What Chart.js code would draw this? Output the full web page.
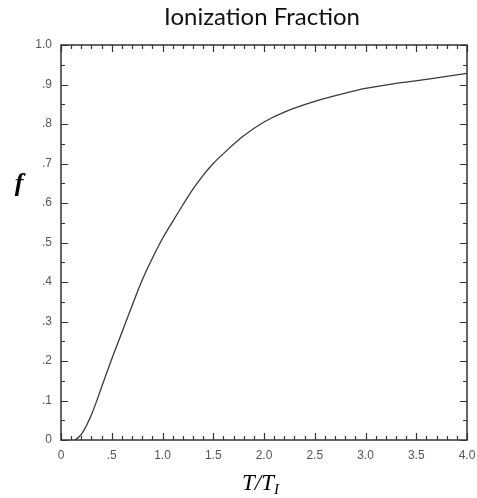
<!DOCTYPE html>
<html>
<head>
<meta charset="utf-8">
<script src="https://cdn.jsdelivr.net/npm/chart.js@4.4.0/dist/chart.umd.min.js"></script>
<style>
  body { margin: 0; background: #fff; }
  #wrap { width: 477px; height: 498px; }
</style>
</head>
<body>
<div id="wrap"><canvas id="ion-chart"></canvas></div>
<script>
// values
var tempRatio = [0.14, 0.2, 0.3, 0.4, 0.5, 0.6, 0.7, 0.8, 0.9, 1.0, 1.1, 1.2, 1.3, 1.4, 1.5, 1.6, 1.8, 2.0, 2.2, 2.5, 2.8, 3.0, 3.3, 3.6, 4.0];
var fraction  = [0, 0.014, 0.064, 0.134, 0.205, 0.272, 0.34, 0.405, 0.46, 0.51, 0.553, 0.595, 0.635, 0.67, 0.70, 0.725, 0.77, 0.805, 0.83, 0.857, 0.878, 0.89, 0.903, 0.913, 0.928];

var xTickValues = [0, 0.5, 1.0, 1.5, 2.0, 2.5, 3.0, 3.5, 4.0];
var xTickLabels = ['0', '.5', '1.0', '1.5', '2.0', '2.5', '3.0', '3.5', '4.0'];
var yTickValues = [0, 0.1, 0.2, 0.3, 0.4, 0.5, 0.6, 0.7, 0.8, 0.9, 1.0];
var yTickLabels = ['0', '.1', '.2', '.3', '.4', '.5', '.6', '.7', '.8', '.9', '1.0'];

var chartTitle = 'Ionization Fraction';
var yTitle = 'f';
var xTitle = 'T/T';
var xTitleSub = 'I';

var points = tempRatio.map(function(t, i) { return {x: t, y: fraction[i]}; });

function labelFor(values, labels, v) {
    for (var i = 0; i < values.length; i++) {
        if (Math.abs(values[i] - v) < 1e-6) return labels[i];
    }
    return '';
}

// frame, inward ticks and the titles
var framePlugin = {
    id: 'frame',
    afterDraw: function(chart) {
        var ctx = chart.ctx;
        var a = chart.chartArea;
        var xs = chart.scales.x, ys = chart.scales.y;
        ctx.save();
        ctx.strokeStyle = '#333';
        ctx.lineWidth = 1.5;
        ctx.strokeRect(a.left, a.top, a.right - a.left, a.bottom - a.top);

        ctx.lineWidth = 1.2;
        ctx.beginPath();
        for (var i = 0; i <= 40; i++) {
            var px = Math.round(xs.getPixelForValue(i / 10)) + 0.5;
            var len = i % 5 === 0 ? 7 : 4;
            ctx.moveTo(px, a.bottom); ctx.lineTo(px, a.bottom - len);
            ctx.moveTo(px, a.top); ctx.lineTo(px, a.top + len);
        }
        for (var j = 0; j <= 20; j++) {
            var py = Math.round(ys.getPixelForValue(j / 20)) + 0.5;
            var l2 = j % 2 === 0 ? 7 : 4;
            ctx.moveTo(a.left, py); ctx.lineTo(a.left + l2, py);
            ctx.moveTo(a.right, py); ctx.lineTo(a.right - l2, py);
        }
        ctx.stroke();

        ctx.fillStyle = '#111';
        ctx.textAlign = 'center';
        ctx.textBaseline = 'middle';
        ctx.font = '24px Lato';
        ctx.fillText(chartTitle, 262, 17);

        ctx.fillStyle = '#000';
        ctx.font = 'italic bold 26px "Liberation Serif"';
        ctx.fillText(yTitle, 19, 184);

        ctx.font = 'italic 23px "Liberation Serif"';
        ctx.textAlign = 'left';
        ctx.textBaseline = 'alphabetic';
        var w = ctx.measureText(xTitle).width;
        var x0 = 242;
        ctx.fillText(xTitle, x0, 490);
        ctx.font = 'italic 15px "Liberation Serif"';
        ctx.fillText(xTitleSub, x0 + w, 494);
        ctx.restore();
    }
};

new Chart(document.getElementById('ion-chart'), {
    type: 'line',
    data: {
        datasets: [{
            data: points,
            borderColor: '#3a3a3a',
            borderWidth: 1.3,
            pointRadius: 0,
            cubicInterpolationMode: 'monotone',
            fill: false
        }]
    },
    options: {
        responsive: true,
        maintainAspectRatio: false,
        animation: false,
        layout: { padding: { top: 45, right: 10, left: 0, bottom: 0 } },
        plugins: {
            legend: { display: false },
            title: { display: false },
            tooltip: { enabled: false }
        },
        scales: {
            x: {
                type: 'linear',
                min: 0, max: 4,
                afterBuildTicks: function(scale) {
                    scale.ticks = xTickValues.map(function(v) { return {value: v}; });
                },
                afterFit: function(scale) {
                    scale.height = 58;
                    scale.paddingLeft = 0;
                    scale.paddingRight = 0;
                },
                grid: { display: false, drawTicks: false },
                border: { display: false },
                ticks: {
                    padding: 8,
                    maxRotation: 0,
                    autoSkip: false,
                    color: '#555',
                    font: { family: 'Liberation Sans', size: 12 },
                    callback: function(v) { return labelFor(xTickValues, xTickLabels, v); }
                }
            },
            y: {
                min: 0, max: 1,
                afterBuildTicks: function(scale) {
                    scale.ticks = yTickValues.map(function(v) { return {value: v}; });
                },
                afterFit: function(scale) {
                    scale.width = 61;
                    scale.paddingTop = 0;
                    scale.paddingBottom = 0;
                },
                grid: { display: false, drawTicks: false },
                border: { display: false },
                ticks: {
                    padding: 9,
                    autoSkip: false,
                    color: '#555',
                    font: { family: 'Liberation Sans', size: 12 },
                    callback: function(v) { return labelFor(yTickValues, yTickLabels, v); }
                }
            }
        }
    },
    plugins: [framePlugin]
});
</script>
</body>
</html>
